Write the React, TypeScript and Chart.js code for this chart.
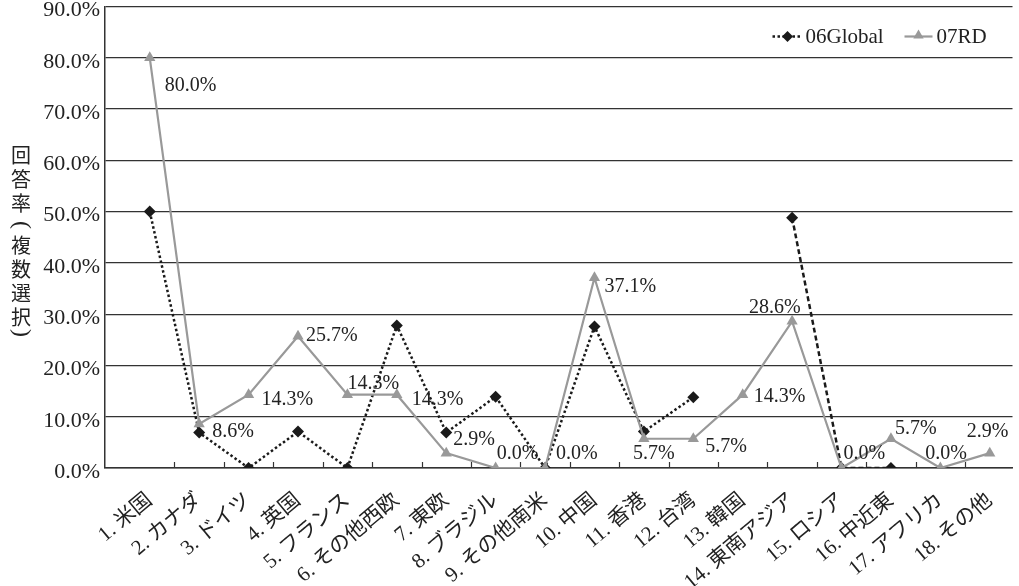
import React, { useEffect, useRef } from 'react';
import { Chart, registerables } from 'chart.js';

Chart.register(...registerables);

const categories = [
  '1. 米国', '2. カナダ', '3. ドイツ', '4. 英国', '5. フランス', '6. その他西欧',
  '7. 東欧', '8. ブラジル', '9. その他南米', '10. 中国', '11. 香港', '12. 台湾',
  '13. 韓国', '14. 東南アジア', '15. ロシア', '16. 中近東', '17. アフリカ', '18. その他',
];

const series06Global: (number | null)[] = [
  50.0, 6.9, 0.0, 7.1, 0.0, 27.8, 6.9, 13.9, 0.0, 27.6, 7.1, 13.8, null, 48.8, 0.0, 0.0, null, null,
];

const series07RD: number[] = [
  80.0, 8.6, 14.3, 25.7, 14.3, 14.3, 2.9, 0.0, 0.0, 37.1, 5.7, 5.7, 14.3, 28.6, 0.0, 5.7, 0.0, 2.9,
];

const seriesNames = ['06Global', '07RD'];
const yTitle = '回答率（複数選択）';

// label placement (styling only): [dx, dy] in px relative to point
const rdLabelOffsets: [number, number][] = [
  [15, 28], [13, 8], [13, 5], [8, 0], [0, -11], [15, 5], [7, -13], [1, -14], [11, -14],
  [10, 9], [-11, 15], [12, 8], [11, 2], [-43, -14], [2, -14], [4, -10], [-15, -14], [-23, -21],
];

const LATIN = "'Liberation Serif', 'Noto Sans CJK JP', serif";
const CJK = "'Noto Sans CJK JP', 'Liberation Serif', sans-serif";
const BLACK = '#1a1a1a';
const GRAY = '#999999';

function drawDiamond(ctx: CanvasRenderingContext2D, x: number, y: number, r: number) {
  ctx.beginPath();
  ctx.moveTo(x - r, y);
  ctx.lineTo(x, y - r);
  ctx.lineTo(x + r, y);
  ctx.lineTo(x, y + r);
  ctx.closePath();
  ctx.fill();
}

function drawTriangle(ctx: CanvasRenderingContext2D, x: number, y: number, r: number) {
  ctx.beginPath();
  ctx.moveTo(x, y - r);
  ctx.lineTo(x + r * Math.sin((2 * Math.PI) / 3), y - r * Math.cos((2 * Math.PI) / 3));
  ctx.lineTo(x - r * Math.sin((2 * Math.PI) / 3), y - r * Math.cos((2 * Math.PI) / 3));
  ctx.closePath();
  ctx.fill();
}

const customPlugin = {
  id: 'customDecor',
  beforeDatasetsDraw(chart: any) {
    const ctx = chart.ctx as CanvasRenderingContext2D;
    const xs = chart.scales.x;
    const area = chart.chartArea;
    ctx.save();
    ctx.strokeStyle = '#333';
    ctx.lineWidth = 1.2;
    for (let i = 1; i < categories.length; i++) {
      const px = Math.round(xs.getPixelForValue(i + 0.5)) + 0.5;
      ctx.beginPath();
      ctx.moveTo(px, area.bottom);
      ctx.lineTo(px, area.bottom - 6);
      ctx.stroke();
    }
    ctx.restore();
  },
  afterDatasetsDraw(chart: any) {
    const ctx = chart.ctx as CanvasRenderingContext2D;
    const meta = chart.getDatasetMeta(1);
    ctx.save();
    ctx.font = `20px ${LATIN}`;
    ctx.fillStyle = '#222';
    ctx.textAlign = 'left';
    ctx.textBaseline = 'middle';
    meta.data.forEach((pt: any, i: number) => {
      const v = series07RD[i];
      const [dx, dy] = rdLabelOffsets[i];
      ctx.fillText(v.toFixed(1) + '%', pt.x + dx, pt.y + dy);
    });
    ctx.restore();
  },
  afterDraw(chart: any) {
    const ctx = chart.ctx as CanvasRenderingContext2D;
    const area = chart.chartArea;
    ctx.save();
    // legend
    const ly = area.top + 30;
    let lx = area.right - 240;
    ctx.strokeStyle = BLACK;
    ctx.fillStyle = BLACK;
    ctx.lineWidth = 2.5;
    ctx.setLineDash([2.5, 2.5]);
    ctx.beginPath();
    ctx.moveTo(lx, ly);
    ctx.lineTo(lx + 30, ly);
    ctx.stroke();
    ctx.setLineDash([]);
    drawDiamond(ctx, lx + 15, ly, 5.5);
    ctx.font = `21px ${LATIN}`;
    ctx.textAlign = 'left';
    ctx.textBaseline = 'middle';
    ctx.fillStyle = '#222';
    ctx.fillText(seriesNames[0], lx + 33, ly + 1);
    lx = area.right - 108;
    ctx.strokeStyle = GRAY;
    ctx.fillStyle = GRAY;
    ctx.lineWidth = 2.2;
    ctx.beginPath();
    ctx.moveTo(lx, ly);
    ctx.lineTo(lx + 28, ly);
    ctx.stroke();
    drawTriangle(ctx, lx + 14, ly - 1, 6);
    ctx.fillStyle = '#222';
    ctx.fillText(seriesNames[1], lx + 32, ly + 1);
    ctx.restore();

    // vertical y-axis title
    ctx.save();
    ctx.fillStyle = '#222';
    const cx = 21;
    let y = 155;
    const chars = Array.from(yTitle);
    chars.forEach((ch, idx) => {
      if (ch === '（' || ch === '）') {
        const glyph = ch === '（' ? '(' : ')';
        const py = ch === '（' ? y + 1 : y - 5;
        ctx.save();
        ctx.setTransform(0, 1, -1, 0, cx, py);
        ctx.font = `24px 'Liberation Serif', serif`;
        ctx.textAlign = 'center';
        ctx.textBaseline = 'middle';
        ctx.fillText(glyph, 0, 0);
        ctx.restore();
      } else {
        ctx.font = `20px ${CJK}`;
        ctx.textAlign = 'center';
        ctx.textBaseline = 'middle';
        ctx.fillText(ch, cx, y);
      }
      const next = chars[idx + 1];
      const isParen = ch === '（' || ch === '）' || next === '（' || next === '）';
      y += isParen ? 21 : 24;
    });
    ctx.restore();
  },
};

export default function App() {
  const ref = useRef<HTMLCanvasElement>(null);
  useEffect(() => {
    document.body.style.margin = '0';
    if (!ref.current) return;
    Chart.defaults.font.family = LATIN;
    const d06 = categories.map((_, i) => ({ x: i + 1, y: series06Global[i] }));
    const dRD = categories.map((_, i) => ({ x: i + 1, y: series07RD[i] }));
    const chart = new Chart(ref.current, {
      type: 'line',
      data: {
        datasets: [
          {
            label: seriesNames[0],
            data: d06 as any,
            borderColor: BLACK,
            backgroundColor: BLACK,
            borderWidth: 2.5,
            borderDash: [2.5, 2.5],
            pointStyle: 'rectRot',
            pointRadius: 6,
            pointBorderWidth: 0,
            spanGaps: false,
            tension: 0,
            order: 1,
            segment: {
              borderDash: (c: any) => (c.p0DataIndex >= 13 ? [5, 3] : undefined),
            },
          } as any,
          {
            label: seriesNames[1],
            data: dRD as any,
            borderColor: GRAY,
            backgroundColor: GRAY,
            borderWidth: 2.2,
            pointStyle: 'triangle',
            pointRadius: 6.5,
            pointBorderWidth: 0,
            tension: 0,
            order: 0,
          } as any,
        ],
      },
      options: {
        animation: false,
        responsive: true,
        maintainAspectRatio: false,
        layout: { padding: { top: 5, right: 1, left: 0, bottom: 0 } },
        plugins: { legend: { display: false }, tooltip: { enabled: false } },
        scales: {
          x: {
            type: 'linear',
            min: 0.094,
            max: 18.46,
            afterBuildTicks: (scale: any) => {
              scale.ticks = categories.map((_, i) => ({ value: i + 1 }));
            },
            afterFit: (scale: any) => {
              scale.height = 118;
              scale.paddingLeft = 0;
              scale.paddingRight = 0;
            },
            grid: { display: false },
            border: { display: true, color: '#333', width: 1.5 },
            ticks: {
              autoSkip: false,
              minRotation: 40,
              maxRotation: 40,
              padding: 12,
              color: '#222',
              font: { size: 21, family: LATIN },
              callback: (v: any) => categories[Math.round(Number(v)) - 1] ?? '',
            },
          },
          y: {
            min: 0,
            max: 90,
            afterFit: (scale: any) => {
              scale.width = 105;
              scale.paddingTop = 0;
              scale.paddingBottom = 0;
            },
            ticks: {
              stepSize: 10,
              padding: 5,
              labelOffset: 4,
              color: '#222',
              font: { size: 22, family: LATIN },
              callback: (v: any) => Number(v).toFixed(1) + '%',
            },
            grid: { color: '#333', lineWidth: 1.2, drawTicks: false },
            border: { color: '#333', width: 1.5 },
          },
        },
      },
      plugins: [customPlugin],
    });
    return () => chart.destroy();
  }, []);
  return (
    <div style={{ width: 1019, height: 586, position: 'relative' }}>
      <canvas ref={ref} />
    </div>
  );
}
